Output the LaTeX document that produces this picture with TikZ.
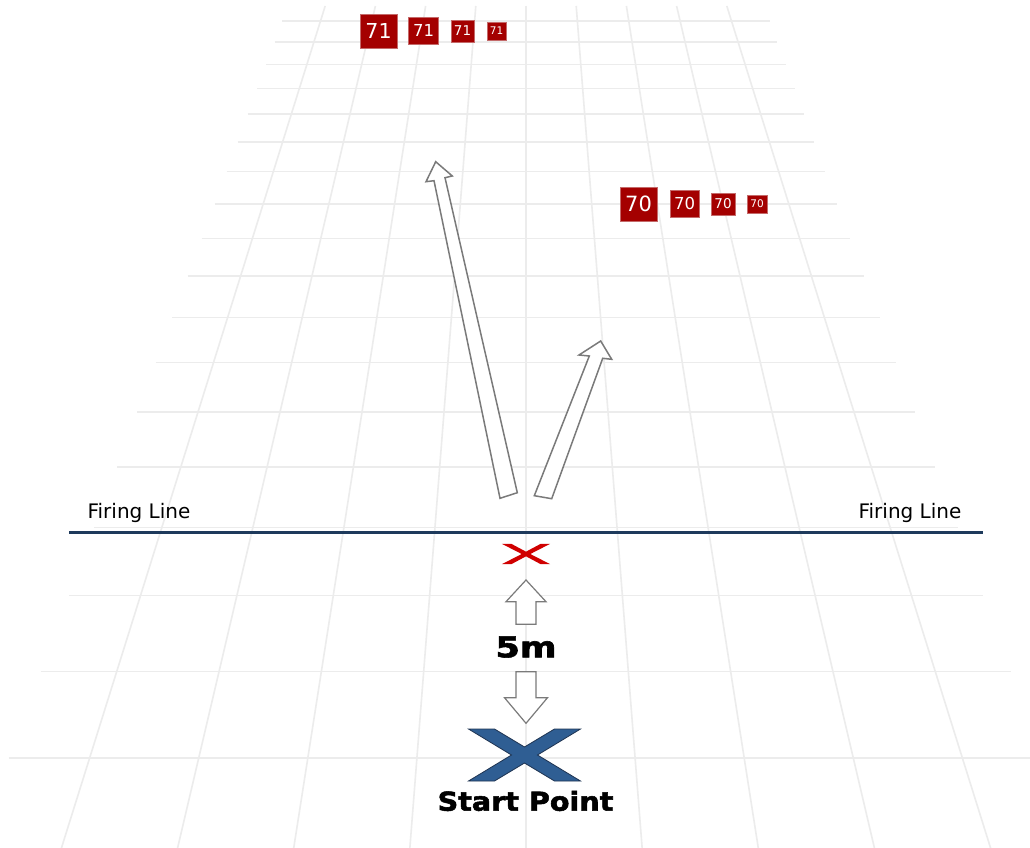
\documentclass[tikz,border=0pt]{standalone}
\usepackage{fontspec}
\usepackage{graphicx}
\setmainfont{DejaVu Sans}
\newfontfamily\heavyfont{DejaVu Sans}[BoldFeatures={FakeBold=2}]
\definecolor{gridgrey}{HTML}{ECECEC}
\definecolor{lanenavy}{HTML}{1E3A5C}
\definecolor{arrowgrey}{HTML}{7A7A7A}
\definecolor{targetred}{HTML}{A40000}
\definecolor{targetedge}{HTML}{C46A6A}
\definecolor{markred}{HTML}{D00000}
\definecolor{startblue}{HTML}{2F5E93}
\definecolor{startedge}{HTML}{1F3452}
\tikzset{
  gridline/.style={draw=gridgrey, line width=1.6pt},
  firingline/.style={draw=lanenavy, line width=3pt},
  linelabel/.style={font=\fontsize{20}{24}\selectfont, anchor=base, inner sep=0pt},
  target/.style={fill=targetred, draw=targetedge, line width=0.6pt, text=white, inner sep=0pt},
  moveshape/.style={draw=arrowgrey, fill=white, line width=1.5pt, line join=miter},
  stepshape/.style={draw=arrowgrey, fill=white, line width=1.2pt, line join=miter},
  heavylabel/.style={font=\heavyfont\bfseries\fontsize{#1}{#1}\selectfont, inner sep=0pt},
}
\begin{document}
\begin{tikzpicture}[x=1pt, y=-1pt]
\useasboundingbox (0,0) rectangle (1030,848);
\fill[white] (0,0) rectangle (1030,848);

% perspective floor grid: cross lines
\foreach \k in {0,...,17}{
  \pgfmathsetmacro{\yy}{-635+10000/(15.244-0.47442*\k)}
  \pgfmathsetmacro{\hw}{0.3712*(\yy+635)}
  \draw[gridline] (526-\hw,\yy) -- (526+\hw,\yy);
}
% perspective floor grid: lane lines converging upwards
\foreach \i in {-4,...,4}{
  \draw[gridline] (526+50.2*\i,6) -- (526+116.14*\i,848);
}

% firing line
\coordinate (flL) at (69,532);
\coordinate (flR) at (983,532);
\draw[firingline] (flL) -- (flR);
\node[linelabel] (flabelL) at (139,518.3) {Firing Line};
\node[linelabel] (flabelR) at (910,518.3) {Firing Line};

% far targets (71)
\node[target, minimum width=37pt, minimum height=34pt, font=\fontsize{20.6}{22}\selectfont] (t71a) at (378.5,31) {71};
\node[target, minimum width=30pt, minimum height=27pt, font=\fontsize{16.5}{18}\selectfont] (t71b) at (423.5,30.5) {71};
\node[target, minimum width=23pt, minimum height=22pt, font=\fontsize{13.5}{15}\selectfont] (t71c) at (462.5,31) {71};
\node[target, minimum width=19pt, minimum height=18pt, font=\fontsize{10.5}{12}\selectfont] (t71d) at (496.5,31) {71};

% near targets (70)
\node[target, minimum width=37pt, minimum height=34pt, font=\fontsize{21}{22}\selectfont] (t70a) at (638.5,204) {70};
\node[target, minimum width=29pt, minimum height=27pt, font=\fontsize{16.5}{18}\selectfont] (t70b) at (684.5,203.5) {70};
\node[target, minimum width=24pt, minimum height=22pt, font=\fontsize{13.5}{15}\selectfont] (t70c) at (723,204) {70};
\node[target, minimum width=20pt, minimum height=18pt, font=\fontsize{10.5}{12}\selectfont] (t70d) at (757,204) {70};

% movement arrows from the firing line
\draw[moveshape] (500,498.3) -- (517.3,492.7) -- (445,177.7) -- (452.3,176)
  -- (435.7,161.7) -- (426,181.7) -- (434,180.7) -- cycle;
\draw[moveshape] (534.3,495.7) -- (551.7,498.7) -- (602.7,358.3) -- (611.7,359.3)
  -- (600.7,341) -- (579,355) -- (589.3,356) -- cycle;

% small red mark on the firing line
\begin{scope}[shift={(526,554)}, xscale=0.43, yscale=0.39]
  \fill[markred] (-56,-26) -- (-34,-26) -- (0,-6) -- (34,-26) -- (56,-26) -- (10,0)
    -- (56,26) -- (34,26) -- (0,6) -- (-34,26) -- (-56,26) -- (-10,0) -- cycle;
\end{scope}

% 5 m distance indicator
\draw[stepshape] (526,580) -- (546,601.7) -- (536,601.7) -- (536,624.3)
  -- (516,624.3) -- (516,601.7) -- (506,601.7) -- cycle;
\node[heavylabel=28.8] (dist) at (526,647) {\scalebox{1.22}[1]{5m}};
\draw[stepshape] (516,671.7) -- (536,671.7) -- (536,697.7) -- (547.5,697.7)
  -- (526,723.3) -- (504.5,697.7) -- (516,697.7) -- cycle;

% start point mark
\begin{scope}[shift={(524.5,755)}]
  \filldraw[fill=startblue, draw=startedge, line width=0.8pt]
    (-56,-26) -- (-30,-26) -- (0,-8) -- (30,-26) -- (56,-26) -- (13,0)
    -- (56,26) -- (30,26) -- (0,8) -- (-30,26) -- (-56,26) -- (-13,0) -- cycle;
\end{scope}
\node[heavylabel=26] (start) at (525.5,801) {\scalebox{1.1}[1]{Start Point}};
\end{tikzpicture}
\end{document}
